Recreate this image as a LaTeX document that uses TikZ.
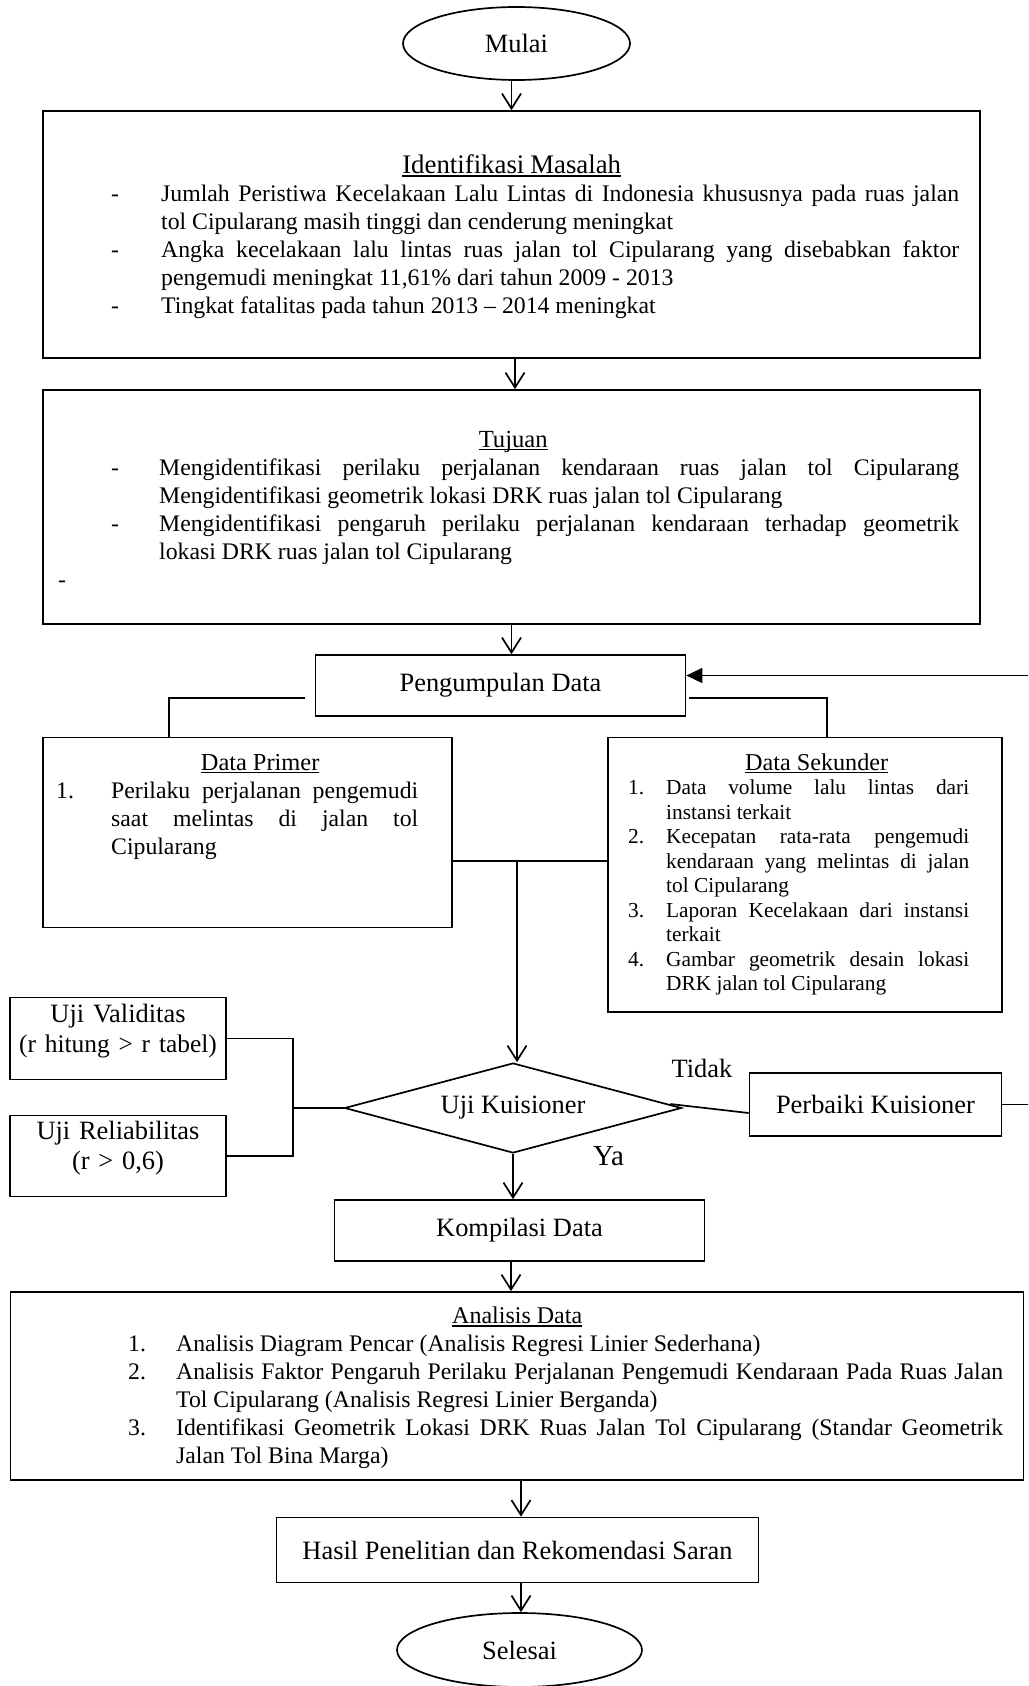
\documentclass[tikz,border=0pt]{standalone}
\usepackage{fontspec}
\setmainfont{Liberation Serif}
\usetikzlibrary{shapes.geometric,arrows.meta,calc}

% type sizes
\newcommand\fmain{\fontsize{23.75}{28.06}\selectfont}
\newcommand\fsmall{\fontsize{21.35}{24.55}\selectfont}
\newcommand\fbig{\fontsize{26.43}{30.4}\selectfont}
\newcommand\fya{\fontsize{29}{33}\selectfont}
% stretchable word spaces for justified lines
\newcommand\sps{\spaceskip=.25em plus .5em minus .08em\relax}

% underlined heading
\newsavebox\ulbox
\newcommand\uln[1]{\sbox\ulbox{#1}\rlap{\rule[-3pt]{\wd\ulbox}{1.2pt}}\usebox\ulbox}
% centred heading (size #2), shifted sideways by #1
\newcommand\ctitle[3]{{\fontsize{#2}{24}\selectfont\noindent\makebox[\linewidth]{\hspace*{#1}\uln{#3}}\par}}
% list entry: hanging indent #1, marker #2, text #3
\newcommand\itm[3]{\noindent\hangindent=#1\hangafter=1\relax\makebox[#1][l]{#2}#3\par}
\newcommand\blocksetup{\parindent0pt\parskip0pt\tolerance10000\hbadness10000\hfuzz30pt\leftskip0pt\rightskip0pt\relax\parfillskip0pt plus 1fil\relax\sps}

\tikzset{
  box/.style={draw, rectangle, line width=1.7pt, inner sep=0pt},
  oval/.style={draw, ellipse, line width=1.7pt, inner sep=0pt},
  txt/.style={inner sep=0pt, anchor=base west, align=justify},
  link/.style={line width=1.7pt},
  arr/.style={link, -{Straight Barb[length=15pt,width=19pt]}},
  farr/.style={link, -{Triangle[length=16pt,width=15pt]}},
}

\begin{document}
\begin{tikzpicture}[x=1pt, y=-1pt, font=\fmain]
\useasboundingbox (0,0) rectangle (1028,1686);

% start / end
\node[oval, minimum width=227pt, minimum height=73pt, font=\fbig] (mulai) at (516.5,43.5) {Mulai};
\node[oval, minimum width=245pt, minimum height=74pt, font=\fbig] (sel) at (519.5,1650) {Selesai};

% problem statement
\node[box, minimum width=937pt, minimum height=247pt] (idm) at (511.5,234.5) {};
\node[txt, text width=848pt] (idmtxt) at (111,173.5) {\blocksetup%
  \ctitle{-47pt}{26.8}{Identifikasi Masalah}%
  \itm{50pt}{-}{Jumlah Peristiwa Kecelakaan Lalu Lintas di Indonesia khususnya pada ruas jalan\linebreak tol Cipularang masih tinggi dan cenderung meningkat}%
  \itm{50pt}{-}{Angka kecelakaan lalu lintas ruas jalan tol Cipularang yang disebabkan faktor\linebreak pengemudi meningkat 11,61\% dari tahun 2009 - 2013}%
  \itm{50pt}{-}{Tingkat fatalitas pada tahun 2013 – 2014 meningkat}};

% objectives
\node[box, minimum width=937pt, minimum height=234pt] (tuj) at (511.5,507) {};
\node[txt, text width=848pt] (tujtxt) at (111,447) {\blocksetup%
  \ctitle{-44pt}{24.6}{Tujuan}%
  \itm{48pt}{-}{Mengidentifikasi perilaku perjalanan kendaraan ruas jalan tol Cipularang\linebreak Mengidentifikasi geometrik lokasi DRK ruas jalan tol Cipularang}%
  \itm{48pt}{-}{Mengidentifikasi pengaruh perilaku perjalanan kendaraan terhadap geometrik\linebreak lokasi DRK ruas jalan tol Cipularang}%
  \noindent\hspace*{-53pt}-\par};

% data collection
\node[box, minimum width=370pt, minimum height=61pt, font=\fbig] (peng) at (500.5,685.5) {Pengumpulan Data};

\node[box, minimum width=409pt, minimum height=190pt] (prim) at (247.5,832.5) {};
\node[txt, text width=362pt] (primtxt) at (56,770) {\blocksetup%
  \ctitle{46pt}{24.4}{Data Primer}%
  \itm{55pt}{1.}{Perilaku perjalanan pengemudi\linebreak saat melintas di jalan tol\linebreak Cipularang}};

\node[box, minimum width=394pt, minimum height=274.5pt] (sek) at (805,874.75) {};
\node[txt, text width=341pt] (sektxt) at (628,770) {\blocksetup%
  \ctitle{36pt}{24.2}{Data Sekunder}%
  \fsmall\sps
  \itm{38pt}{1.}{Data volume lalu lintas dari\linebreak instansi terkait}%
  \itm{38pt}{2.}{Kecepatan rata-rata pengemudi\linebreak kendaraan yang melintas di jalan\linebreak tol Cipularang}%
  \itm{38pt}{3.}{Laporan Kecelakaan dari instansi\linebreak terkait}%
  \itm{38pt}{4.}{Gambar geometrik desain lokasi\linebreak DRK jalan tol Cipularang}};

% questionnaire tests
\node[box, minimum width=216pt, minimum height=82pt] (val) at (118,1038.5) {};
\node[txt, anchor=base, text width=214pt, align=center, font=\fbig] (valtxt) at (118,1022) {Uji Validitas\\{\fontsize{25.4}{30.4}\selectfont(r hitung > r tabel)}};
\node[box, minimum width=216pt, minimum height=81pt] (rel) at (118,1156) {};
\node[txt, anchor=base, text width=214pt, align=center, font=\fbig] (reltxt) at (118,1139.5) {Uji Reliabilitas\\(r > 0,6)};

\node[draw, diamond, aspect=3.74, minimum width=337pt, minimum height=90pt, inner sep=0pt, line width=1.7pt, font=\fbig] (dia) at (513,1108) {Uji Kuisioner};
\node[box, minimum width=252pt, minimum height=63pt, font=\fbig] (perb) at (875.5,1104.5) {Perbaiki Kuisioner};
\node[font=\fbig, inner sep=0pt] (tidak) at (702,1068) {Tidak};
\node[font=\fya, inner sep=0pt] (ya) at (608.5,1156) {Ya};

% compilation, analysis, results
\node[box, minimum width=370pt, minimum height=61pt, font=\fbig] (komp) at (519.5,1230.5) {Kompilasi Data};
\node[box, minimum width=1013pt, minimum height=188pt] (ana) at (517,1386) {};
\node[txt, text width=875pt] (anatxt) at (128,1323.5) {\blocksetup%
  \ctitle{-97pt}{24}{Analisis Data}%
  \itm{48pt}{1.}{Analisis Diagram Pencar (Analisis Regresi Linier Sederhana)}%
  \itm{48pt}{2.}{Analisis Faktor Pengaruh Perilaku Perjalanan Pengemudi Kendaraan Pada Ruas Jalan\linebreak Tol Cipularang (Analisis Regresi Linier Berganda)}%
  \itm{48pt}{3.}{Identifikasi Geometrik Lokasi DRK Ruas Jalan Tol Cipularang (Standar Geometrik\linebreak Jalan Tol Bina Marga)}};
\node[box, minimum width=482pt, minimum height=65pt, font=\fbig] (hasil) at (517.5,1550) {Hasil Penelitian dan Rekomendasi Saran};

% main flow
\draw[arr] (idm.north |- mulai.south) -- (idm.north);
\draw[arr] ($(idm.south)+(3.5,0)$) coordinate (a1) -- (a1 |- tuj.north);
\draw[arr] (tuj.south) -- (tuj.south |- peng.north);

% branches to the data sources
\draw[link] ($(peng.south west)+(-9.5,-19)$) -| ($(prim.north)+(-78.5,0)$);
\draw[link] ($(peng.south east)+(2.5,-19)$) -| ($(sek.north)+(22,0)$);

% joining both sources into the questionnaire test
\draw[link] ($(prim.east)+(0,28.5)$) -- ($(sek.west)+(0,-13.75)$);
\coordinate (jn) at (517,861);
\draw[arr] (jn) -- (jn |- dia.north);

% validity / reliability bracket
\coordinate (brk) at (293,1108);
\draw[link] (val.east) -| (brk) |- (rel.east);
\draw[link] (brk) -- (dia.west);

% "Tidak" branch and loop back
\draw[link] ($(dia.east)+(-12,-4)$) -- ($(perb.west)+(0,8.5)$);
\begin{scope}
  \clip (0,0) rectangle (1028,1686);
  \draw[farr] (perb.east) -- ++(40,0) |- ($(peng.east)+(0,-10)$);
\end{scope}

% "Ya" branch onwards
\draw[arr] (dia.south) -- (dia.south |- komp.north);
\draw[arr] ($(komp.south)+(-8.5,0)$) coordinate (a2) -- (a2 |- ana.north);
\draw[arr] ($(ana.south)+(4,0)$) coordinate (a3) -- (a3 |- hasil.north);
\draw[arr] ($(hasil.south)+(3.5,0)$) coordinate (a4) -- (a4 |- sel.north);
\end{tikzpicture}
\end{document}
